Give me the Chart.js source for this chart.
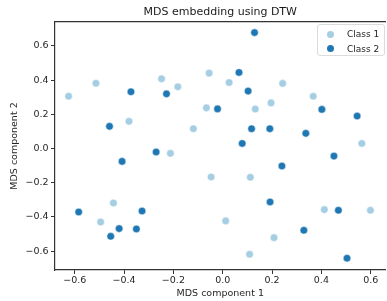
<!DOCTYPE html>
<html>
<head>
<meta charset="utf-8">
<script src="https://cdn.jsdelivr.net/npm/chart.js@4"></script>
<style>
  html, body { margin: 0; padding: 0; background: #fff; overflow: hidden; }
  #wrap { position: relative; width: 387px; height: 301px; overflow: hidden; }
  #legend {
    position: absolute; left: 317px; top: 24px; width: 66px; height: 30px;
    border: 1px solid #dcdcdc; border-radius: 3px; background: rgba(255,255,255,0.8);
    font-family: "DejaVu Sans", sans-serif; font-size: 9px; color: #262626;
  }
  .item { position: absolute; left: 0; width: 66px; height: 12px; line-height: 12px; }
  .dot { position: absolute; left: 9px; top: 2.5px; width: 7px; height: 7px; border-radius: 50%; }
  .lbl { position: absolute; left: 29px; top: 0; white-space: nowrap; }
</style>
</head>
<body>
<div id="wrap">
  <canvas id="myChart" width="390" height="301"></canvas>
  <div id="legend">
    <div class="item" style="top:3.3px"><span class="dot" style="background:#a6cee3"></span><span class="lbl">Class 1</span></div>
    <div class="item" style="top:17.7px"><span class="dot" style="background:#1f78b4"></span><span class="lbl">Class 2</span></div>
  </div>
</div>
<script>
const class1X = [-0.625, -0.514, -0.248, -0.182, -0.055, 0.026, 0.243, -0.066, 0.132, 0.196, 0.367, -0.380, -0.119, 0.564,
                 -0.212, -0.047, 0.112, -0.443, -0.495, 0.012, 0.412, 0.599, 0.208, 0.109];
const class1Y = [0.306, 0.382, 0.408, 0.361, 0.441, 0.386, 0.381, 0.238, 0.231, 0.267, 0.306, 0.159, 0.116, 0.030,
                 -0.028, -0.166, -0.168, -0.318, -0.429, -0.423, -0.357, -0.361, -0.521, -0.618];
const class2X = [0.129, 0.066, -0.372, -0.228, 0.103, -0.021, 0.402, 0.545, -0.459, 0.117, 0.191, 0.337, 0.079,
                 -0.270, 0.451, -0.408, 0.240, 0.192, -0.584, -0.327, 0.469, -0.420, -0.350, -0.454, 0.329, 0.504];
const class2Y = [0.678, 0.445, 0.332, 0.320, 0.336, 0.232, 0.229, 0.190, 0.130, 0.116, 0.116, 0.089, 0.030,
                 -0.020, -0.044, -0.075, -0.102, -0.312, -0.371, -0.365, -0.361, -0.468, -0.470, -0.513, -0.478, -0.641];
const xTicks = [-0.6, -0.4, -0.2, 0.0, 0.2, 0.4, 0.6];
const yTicks = [-0.6, -0.4, -0.2, 0.0, 0.2, 0.4, 0.6];

const toPoints = (xs, ys) => xs.map((x, i) => ({ x: x, y: ys[i] }));
const fmt = v => (v < 0 ? "\u2212" : "") + Math.abs(v).toFixed(1);
const axisColor = "#333";
const textColor = "#262626";
const font = { family: "DejaVu Sans", size: 9.5 };

const ctx = document.getElementById("myChart");
new Chart(ctx, {
  type: "scatter",
  data: {
    datasets: [
      {
        label: "Class 1",
        data: toPoints(class1X, class1Y),
        backgroundColor: "#a6cee3",
        borderColor: "#ffffff",
        borderWidth: 0.5,
        pointRadius: 3.8,
      },
      {
        label: "Class 2",
        data: toPoints(class2X, class2Y),
        backgroundColor: "#1f78b4",
        borderColor: "#ffffff",
        borderWidth: 0.5,
        pointRadius: 3.8,
      },
    ],
  },
  options: {
    responsive: false,
    animation: false,
    layout: { padding: { left: 0, right: 2, top: 0, bottom: 0 } },
    plugins: { legend: { display: false }, tooltip: { enabled: false } },
    scales: {
      x: {
        type: "linear",
        position: "bottom",
        min: -0.68,
        max: 0.66,
        afterBuildTicks: s => { s.ticks = xTicks.map(v => ({ value: v })); },
        afterFit: s => { s.height = 31; },
        ticks: { callback: v => fmt(v), color: textColor, font: font, padding: 1, maxRotation: 0 },
        grid: { display: true, drawOnChartArea: false, drawTicks: true, tickLength: 4, color: axisColor, lineWidth: 1 },
        border: { display: true, color: axisColor, width: 1.2 },
        title: { display: true, text: "MDS component 1", color: textColor, font: font, padding: { top: 0, bottom: 1.3 } },
      },
      x2: {
        type: "linear",
        position: "top",
        min: -0.68,
        max: 0.66,
        afterFit: s => { s.height = 22; },
        ticks: { display: false },
        grid: { display: true, drawOnChartArea: false, drawTicks: false },
        border: { display: true, color: axisColor, width: 1.2 },
        title: { display: true, text: "MDS embedding using DTW", color: "#1a1a1a", font: { family: "DejaVu Sans", size: 11 }, padding: { top: 5.7, bottom: 0 } },
      },
      y: {
        type: "linear",
        position: "left",
        min: -0.71,
        max: 0.74,
        afterBuildTicks: s => { s.ticks = yTicks.map(v => ({ value: v })); },
        afterFit: s => { s.width = 55; },
        ticks: { callback: v => fmt(v), color: textColor, font: font, padding: 2.5 },
        grid: { display: true, drawOnChartArea: false, drawTicks: true, tickLength: 4, color: axisColor, lineWidth: 1 },
        border: { display: true, color: axisColor, width: 1.2 },
        title: { display: true, text: "MDS component 2", color: textColor, font: font, padding: { top: 9.3, bottom: 0 } },
      },
    },
  },
});
</script>
</body>
</html>
